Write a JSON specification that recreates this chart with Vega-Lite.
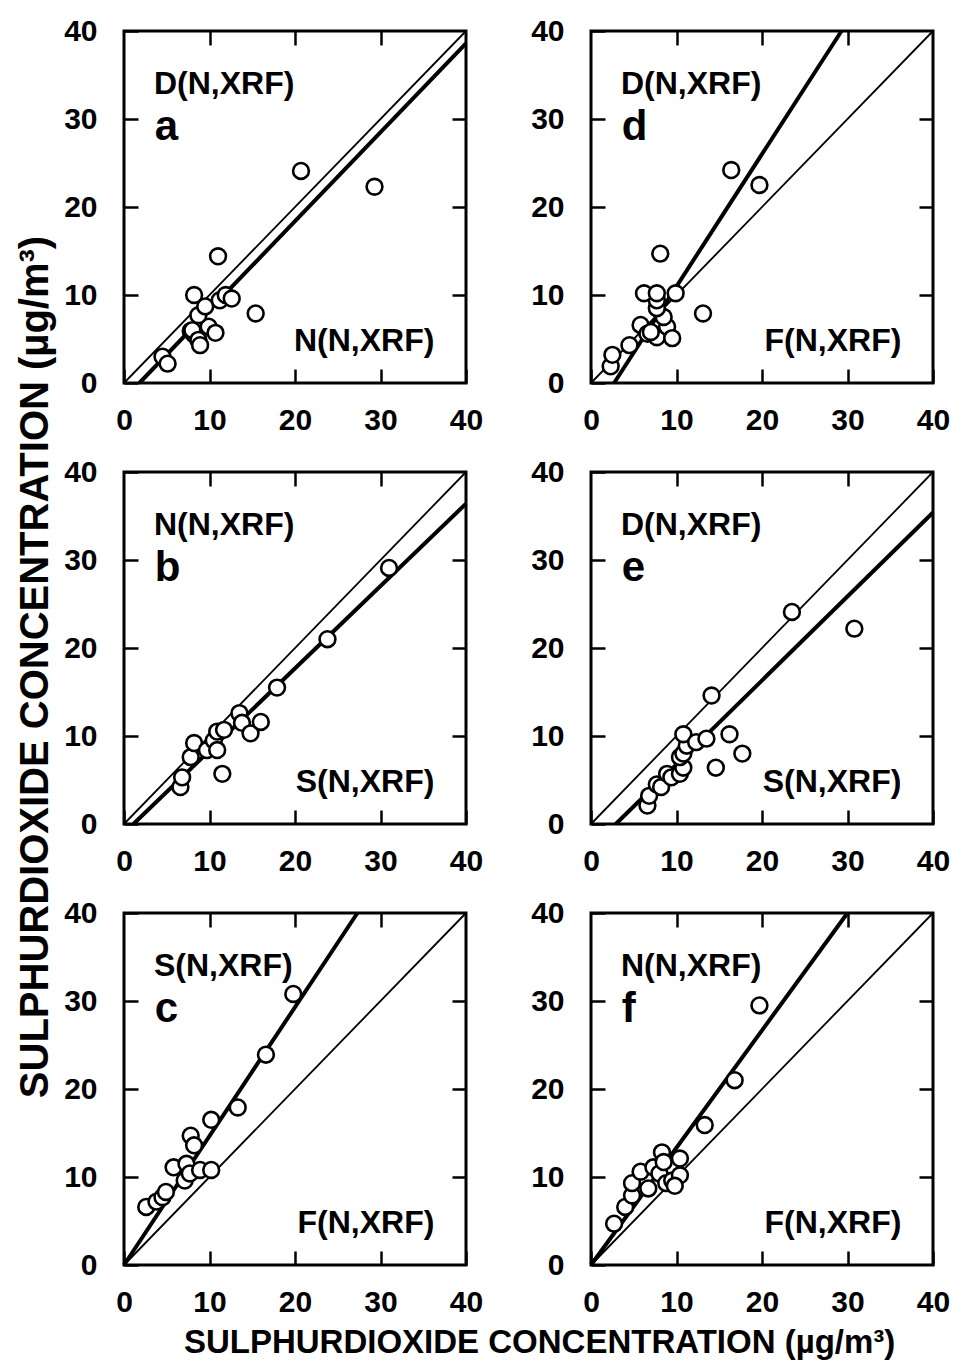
{
  "$schema": "https://vega.github.io/schema/vega-lite/v6.json",
  "background": "white",
  "padding": {"left": 15, "top": 14, "right": 5, "bottom": 2},
  "title": {"text": "SULPHURDIOXIDE CONCENTRATION (µg/m³)", "orient": "bottom", "anchor": "middle", "dx": 56, "offset": 8, "fontSize": 33, "font": "Liberation Sans", "fontWeight": "bold", "color": "black"},
  "datasets": {
    "all": [
      {"t": "pt", "r": 1, "c": 1, "x": 4.5, "y": 3.0},
      {"t": "pt", "r": 1, "c": 1, "x": 5.1, "y": 2.2},
      {"t": "pt", "r": 1, "c": 1, "x": 7.8, "y": 5.9},
      {"t": "pt", "r": 1, "c": 1, "x": 8.2, "y": 5.5},
      {"t": "pt", "r": 1, "c": 1, "x": 8.0, "y": 6.0},
      {"t": "pt", "r": 1, "c": 1, "x": 8.7, "y": 4.9},
      {"t": "pt", "r": 1, "c": 1, "x": 8.9, "y": 4.3},
      {"t": "pt", "r": 1, "c": 1, "x": 9.9, "y": 6.4},
      {"t": "pt", "r": 1, "c": 1, "x": 10.7, "y": 5.7},
      {"t": "pt", "r": 1, "c": 1, "x": 8.7, "y": 7.7},
      {"t": "pt", "r": 1, "c": 1, "x": 9.5, "y": 8.7},
      {"t": "pt", "r": 1, "c": 1, "x": 8.2, "y": 10.0},
      {"t": "pt", "r": 1, "c": 1, "x": 11.2, "y": 9.4},
      {"t": "pt", "r": 1, "c": 1, "x": 11.9, "y": 10.0},
      {"t": "pt", "r": 1, "c": 1, "x": 12.6, "y": 9.6},
      {"t": "pt", "r": 1, "c": 1, "x": 11.0, "y": 14.4},
      {"t": "pt", "r": 1, "c": 1, "x": 15.4, "y": 7.9},
      {"t": "pt", "r": 1, "c": 1, "x": 20.7, "y": 24.1},
      {"t": "pt", "r": 1, "c": 1, "x": 29.3, "y": 22.3},

      {"t": "pt", "r": 1, "c": 2, "x": 2.3, "y": 1.9},
      {"t": "pt", "r": 1, "c": 2, "x": 2.5, "y": 3.2},
      {"t": "pt", "r": 1, "c": 2, "x": 4.5, "y": 4.3},
      {"t": "pt", "r": 1, "c": 2, "x": 5.8, "y": 6.6},
      {"t": "pt", "r": 1, "c": 2, "x": 6.6, "y": 5.6},
      {"t": "pt", "r": 1, "c": 2, "x": 7.7, "y": 5.2},
      {"t": "pt", "r": 1, "c": 2, "x": 7.0, "y": 5.8},
      {"t": "pt", "r": 1, "c": 2, "x": 8.9, "y": 6.4},
      {"t": "pt", "r": 1, "c": 2, "x": 9.5, "y": 5.1},
      {"t": "pt", "r": 1, "c": 2, "x": 8.5, "y": 7.5},
      {"t": "pt", "r": 1, "c": 2, "x": 7.7, "y": 8.5},
      {"t": "pt", "r": 1, "c": 2, "x": 7.7, "y": 9.4},
      {"t": "pt", "r": 1, "c": 2, "x": 6.2, "y": 10.2},
      {"t": "pt", "r": 1, "c": 2, "x": 7.7, "y": 10.2},
      {"t": "pt", "r": 1, "c": 2, "x": 9.9, "y": 10.2},
      {"t": "pt", "r": 1, "c": 2, "x": 8.1, "y": 14.7},
      {"t": "pt", "r": 1, "c": 2, "x": 13.1, "y": 7.9},
      {"t": "pt", "r": 1, "c": 2, "x": 16.4, "y": 24.2},
      {"t": "pt", "r": 1, "c": 2, "x": 19.7, "y": 22.5},

      {"t": "pt", "r": 2, "c": 1, "x": 6.6, "y": 4.2},
      {"t": "pt", "r": 2, "c": 1, "x": 6.8, "y": 5.3},
      {"t": "pt", "r": 2, "c": 1, "x": 7.8, "y": 7.6},
      {"t": "pt", "r": 2, "c": 1, "x": 8.2, "y": 9.2},
      {"t": "pt", "r": 2, "c": 1, "x": 9.7, "y": 8.4},
      {"t": "pt", "r": 2, "c": 1, "x": 10.5, "y": 9.5},
      {"t": "pt", "r": 2, "c": 1, "x": 10.9, "y": 8.4},
      {"t": "pt", "r": 2, "c": 1, "x": 10.9, "y": 10.5},
      {"t": "pt", "r": 2, "c": 1, "x": 11.7, "y": 10.7},
      {"t": "pt", "r": 2, "c": 1, "x": 11.5, "y": 5.7},
      {"t": "pt", "r": 2, "c": 1, "x": 13.5, "y": 12.6},
      {"t": "pt", "r": 2, "c": 1, "x": 13.8, "y": 11.5},
      {"t": "pt", "r": 2, "c": 1, "x": 14.8, "y": 10.3},
      {"t": "pt", "r": 2, "c": 1, "x": 16.0, "y": 11.6},
      {"t": "pt", "r": 2, "c": 1, "x": 17.9, "y": 15.5},
      {"t": "pt", "r": 2, "c": 1, "x": 23.8, "y": 21.0},
      {"t": "pt", "r": 2, "c": 1, "x": 31.0, "y": 29.1},

      {"t": "pt", "r": 2, "c": 2, "x": 6.6, "y": 2.1},
      {"t": "pt", "r": 2, "c": 2, "x": 6.8, "y": 3.2},
      {"t": "pt", "r": 2, "c": 2, "x": 7.7, "y": 4.5},
      {"t": "pt", "r": 2, "c": 2, "x": 8.2, "y": 4.2},
      {"t": "pt", "r": 2, "c": 2, "x": 8.9, "y": 5.7},
      {"t": "pt", "r": 2, "c": 2, "x": 9.4, "y": 5.3},
      {"t": "pt", "r": 2, "c": 2, "x": 10.4, "y": 5.7},
      {"t": "pt", "r": 2, "c": 2, "x": 10.8, "y": 6.4},
      {"t": "pt", "r": 2, "c": 2, "x": 10.4, "y": 7.6},
      {"t": "pt", "r": 2, "c": 2, "x": 10.8, "y": 8.0},
      {"t": "pt", "r": 2, "c": 2, "x": 11.2, "y": 8.9},
      {"t": "pt", "r": 2, "c": 2, "x": 10.8, "y": 10.2},
      {"t": "pt", "r": 2, "c": 2, "x": 12.3, "y": 9.3},
      {"t": "pt", "r": 2, "c": 2, "x": 13.5, "y": 9.7},
      {"t": "pt", "r": 2, "c": 2, "x": 16.2, "y": 10.2},
      {"t": "pt", "r": 2, "c": 2, "x": 14.6, "y": 6.4},
      {"t": "pt", "r": 2, "c": 2, "x": 17.7, "y": 8.0},
      {"t": "pt", "r": 2, "c": 2, "x": 14.1, "y": 14.6},
      {"t": "pt", "r": 2, "c": 2, "x": 23.5, "y": 24.1},
      {"t": "pt", "r": 2, "c": 2, "x": 30.8, "y": 22.2},

      {"t": "pt", "r": 3, "c": 1, "x": 2.6, "y": 6.6},
      {"t": "pt", "r": 3, "c": 1, "x": 3.8, "y": 7.2},
      {"t": "pt", "r": 3, "c": 1, "x": 4.5, "y": 7.7},
      {"t": "pt", "r": 3, "c": 1, "x": 4.9, "y": 8.3},
      {"t": "pt", "r": 3, "c": 1, "x": 5.8, "y": 11.1},
      {"t": "pt", "r": 3, "c": 1, "x": 7.1, "y": 9.6},
      {"t": "pt", "r": 3, "c": 1, "x": 7.3, "y": 11.5},
      {"t": "pt", "r": 3, "c": 1, "x": 7.7, "y": 10.4},
      {"t": "pt", "r": 3, "c": 1, "x": 8.9, "y": 10.8},
      {"t": "pt", "r": 3, "c": 1, "x": 10.2, "y": 10.8},
      {"t": "pt", "r": 3, "c": 1, "x": 7.8, "y": 14.7},
      {"t": "pt", "r": 3, "c": 1, "x": 8.2, "y": 13.6},
      {"t": "pt", "r": 3, "c": 1, "x": 10.2, "y": 16.5},
      {"t": "pt", "r": 3, "c": 1, "x": 13.3, "y": 17.9},
      {"t": "pt", "r": 3, "c": 1, "x": 16.6, "y": 23.9},
      {"t": "pt", "r": 3, "c": 1, "x": 19.8, "y": 30.8},

      {"t": "pt", "r": 3, "c": 2, "x": 2.7, "y": 4.7},
      {"t": "pt", "r": 3, "c": 2, "x": 4.0, "y": 6.6},
      {"t": "pt", "r": 3, "c": 2, "x": 4.8, "y": 7.9},
      {"t": "pt", "r": 3, "c": 2, "x": 4.8, "y": 9.3},
      {"t": "pt", "r": 3, "c": 2, "x": 5.8, "y": 10.6},
      {"t": "pt", "r": 3, "c": 2, "x": 6.7, "y": 8.7},
      {"t": "pt", "r": 3, "c": 2, "x": 7.3, "y": 11.1},
      {"t": "pt", "r": 3, "c": 2, "x": 8.0, "y": 10.4},
      {"t": "pt", "r": 3, "c": 2, "x": 8.3, "y": 12.8},
      {"t": "pt", "r": 3, "c": 2, "x": 8.5, "y": 11.7},
      {"t": "pt", "r": 3, "c": 2, "x": 8.8, "y": 9.3},
      {"t": "pt", "r": 3, "c": 2, "x": 9.5, "y": 9.6},
      {"t": "pt", "r": 3, "c": 2, "x": 10.4, "y": 10.2},
      {"t": "pt", "r": 3, "c": 2, "x": 10.4, "y": 12.1},
      {"t": "pt", "r": 3, "c": 2, "x": 9.8, "y": 9.0},
      {"t": "pt", "r": 3, "c": 2, "x": 13.3, "y": 15.9},
      {"t": "pt", "r": 3, "c": 2, "x": 16.8, "y": 21.0},
      {"t": "pt", "r": 3, "c": 2, "x": 19.7, "y": 29.5},

      {"t": "thin", "r": 1, "c": 1, "x": 0, "y": 0, "x2": 40, "y2": 40},
      {"t": "thin", "r": 1, "c": 2, "x": 0, "y": 0, "x2": 40, "y2": 40},
      {"t": "thin", "r": 2, "c": 1, "x": 0, "y": 0, "x2": 40, "y2": 40},
      {"t": "thin", "r": 2, "c": 2, "x": 0, "y": 0, "x2": 40, "y2": 40},
      {"t": "thin", "r": 3, "c": 1, "x": 0, "y": 0, "x2": 40, "y2": 40},
      {"t": "thin", "r": 3, "c": 2, "x": 0, "y": 0, "x2": 40, "y2": 40},

      {"t": "thick", "r": 1, "c": 1, "x": 1.8, "y": 0, "x2": 40, "y2": 38.6},
      {"t": "thick", "r": 1, "c": 2, "x": 2.7, "y": 0, "x2": 29.3, "y2": 40},
      {"t": "thick", "r": 2, "c": 1, "x": 1.1, "y": 0, "x2": 40, "y2": 36.4},
      {"t": "thick", "r": 2, "c": 2, "x": 2.9, "y": 0, "x2": 40, "y2": 35.4},
      {"t": "thick", "r": 3, "c": 1, "x": 0, "y": 0, "x2": 27.3, "y2": 40},
      {"t": "thick", "r": 3, "c": 2, "x": 0, "y": 0, "x2": 30.0, "y2": 40},

      {"t": "lab", "r": 1, "c": 1, "top": "D(N,XRF)", "letter": "a", "bottom": "N(N,XRF)"},
      {"t": "lab", "r": 1, "c": 2, "top": "D(N,XRF)", "letter": "d", "bottom": "F(N,XRF)"},
      {"t": "lab", "r": 2, "c": 1, "top": "N(N,XRF)", "letter": "b", "bottom": "S(N,XRF)"},
      {"t": "lab", "r": 2, "c": 2, "top": "D(N,XRF)", "letter": "e", "bottom": "S(N,XRF)"},
      {"t": "lab", "r": 3, "c": 1, "top": "S(N,XRF)", "letter": "c", "bottom": "F(N,XRF)"},
      {"t": "lab", "r": 3, "c": 2, "top": "N(N,XRF)", "letter": "f", "bottom": "F(N,XRF)"}
    ]
  },
  "data": {"name": "all"},
  "facet": {
    "row": {"field": "r", "type": "ordinal", "title": "SULPHURDIOXIDE CONCENTRATION (µg/m³)", "header": {"labels": false, "titleFontSize": 40, "titlePadding": -4}},
    "column": {"field": "c", "type": "ordinal", "title": null, "header": {"labels": false}}
  },
  "spacing": {"row": 18, "column": 44},
  "resolve": {"axis": {"x": "independent", "y": "independent"}},
  "spec": {
    "width": 342,
    "height": 352,
    "resolve": {"axis": {"x": "independent", "y": "independent"}},
    "layer": [
      {
        "transform": [{"filter": "datum.t == 'thin'"}],
        "mark": {"type": "rule", "color": "black", "strokeWidth": 1.8},
        "encoding": {
          "x": {"field": "x", "type": "quantitative", "scale": {"domain": [0, 40], "nice": false}, "axis": {"orient": "top", "labels": false, "values": [10, 20, 30], "title": null}},
          "y": {"field": "y", "type": "quantitative", "scale": {"domain": [0, 40], "nice": false}, "axis": {"orient": "right", "labels": false, "values": [10, 20, 30], "title": null}},
          "x2": {"field": "x2"},
          "y2": {"field": "y2"}
        }
      },
      {
        "transform": [{"filter": "datum.t == 'thick'"}],
        "mark": {"type": "rule", "color": "black", "strokeWidth": 4},
        "encoding": {
          "x": {"field": "x", "type": "quantitative", "scale": {"domain": [0, 40], "nice": false}, "axis": null},
          "y": {"field": "y", "type": "quantitative", "scale": {"domain": [0, 40], "nice": false}, "axis": null},
          "x2": {"field": "x2"},
          "y2": {"field": "y2"}
        }
      },
      {
        "transform": [{"filter": "datum.t == 'pt'"}],
        "mark": {"type": "point", "shape": "circle", "filled": false, "fill": "white", "fillOpacity": 1, "stroke": "black", "strokeWidth": 2.6, "size": 250, "opacity": 1},
        "encoding": {
          "x": {"field": "x", "type": "quantitative", "scale": {"domain": [0, 40], "nice": false}, "axis": {"orient": "bottom", "values": [0, 10, 20, 30, 40], "title": null}},
          "y": {"field": "y", "type": "quantitative", "scale": {"domain": [0, 40], "nice": false}, "axis": {"orient": "left", "values": [0, 10, 20, 30, 40], "title": null}}
        }
      },
      {
        "transform": [{"filter": "datum.t == 'lab'"}],
        "mark": {"type": "text", "align": "left", "baseline": "alphabetic", "fontSize": 32, "fontWeight": "bold", "color": "black"},
        "encoding": {
          "x": {"datum": 3.5, "type": "quantitative", "scale": {"domain": [0, 40], "nice": false}, "axis": null},
          "y": {"datum": 32.8, "type": "quantitative", "scale": {"domain": [0, 40], "nice": false}, "axis": null},
          "text": {"field": "top"}
        }
      },
      {
        "transform": [{"filter": "datum.t == 'lab'"}],
        "mark": {"type": "text", "align": "left", "baseline": "alphabetic", "fontSize": 42, "fontWeight": "bold", "color": "black"},
        "encoding": {
          "x": {"datum": 3.6, "type": "quantitative", "scale": {"domain": [0, 40], "nice": false}, "axis": null},
          "y": {"datum": 27.6, "type": "quantitative", "scale": {"domain": [0, 40], "nice": false}, "axis": null},
          "text": {"field": "letter"}
        }
      },
      {
        "transform": [{"filter": "datum.t == 'lab'"}],
        "mark": {"type": "text", "align": "right", "baseline": "alphabetic", "fontSize": 32, "fontWeight": "bold", "color": "black"},
        "encoding": {
          "x": {"datum": 36.3, "type": "quantitative", "scale": {"domain": [0, 40], "nice": false}, "axis": null},
          "y": {"datum": 3.6, "type": "quantitative", "scale": {"domain": [0, 40], "nice": false}, "axis": null},
          "text": {"field": "bottom"}
        }
      }
    ]
  },
  "config": {
    "font": "Liberation Sans",
    "view": {"stroke": "black", "strokeWidth": 3},
    "axis": {"domain": false, "grid": false, "ticks": true, "tickSize": -14, "tickWidth": 2.5, "tickColor": "black", "labelFontSize": 30, "labelColor": "black", "labelFont": "Liberation Sans", "labelFontWeight": "bold", "labelFlush": false, "labelOverlap": false},
    "axisX": {"labelPadding": 36},
    "axisY": {"labelPadding": 41},
    "header": {"titleFontSize": 33, "titleFont": "Liberation Sans", "titleFontWeight": "bold", "titleColor": "black"}
  }
}
